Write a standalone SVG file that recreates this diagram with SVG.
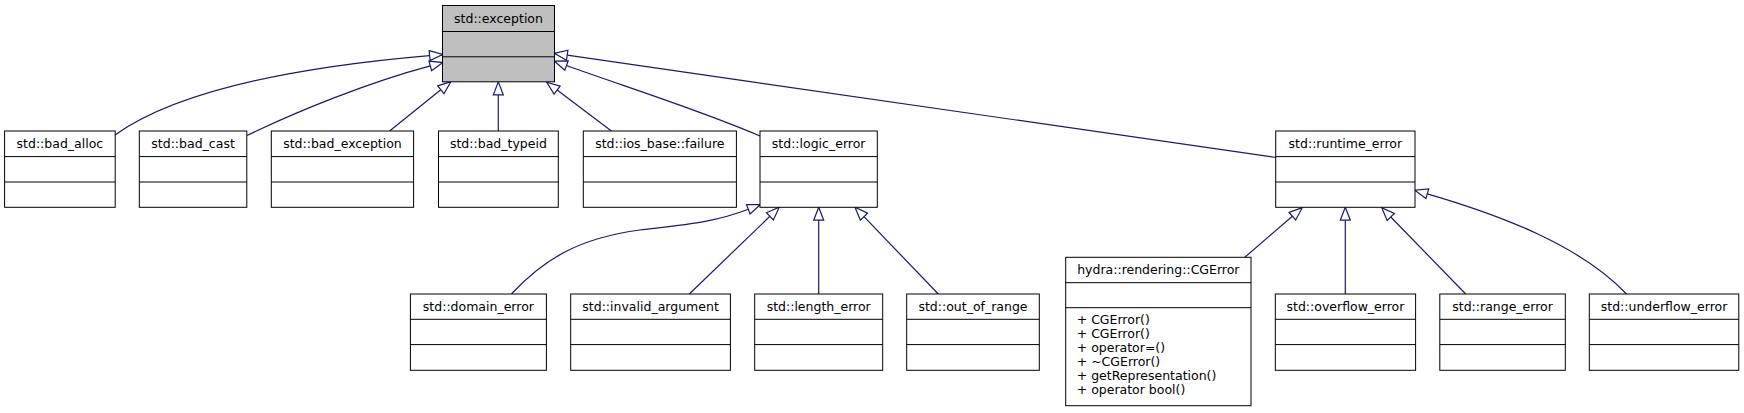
<svg xmlns="http://www.w3.org/2000/svg" width="1744" height="413" viewBox="0 0 1744 413">
<style>
.box{fill:#ffffff;stroke:#000000;stroke-width:1}
.root{fill:#bfbfbf;stroke:#000000;stroke-width:1}
.sep{stroke:#000000;stroke-width:1}
.t{font-family:"DejaVu Sans",sans-serif;font-size:12.5px;fill:#000000;text-anchor:middle}
.m{font-family:"DejaVu Sans",sans-serif;font-size:12.5px;fill:#000000;text-anchor:start}
.e{fill:none;stroke:#191970;stroke-width:1.2}
</style>
<defs>
<marker id="ah" markerUnits="userSpaceOnUse" viewBox="-1 -6 15 12" refX="0" refY="0" markerWidth="15" markerHeight="12" orient="auto">
<path d="M0,-5 L13,0 L0,5 Z" fill="#ffffff" stroke="#191970" stroke-width="1.2"/>
</marker>
</defs>
<rect width="1744" height="413" fill="#ffffff"/>
<g id="connectors">
<path class="e" marker-end="url(#ah)" d="M115,135 C185,85 320,65 429.6,55.6"/>
<path class="e" marker-end="url(#ah)" d="M247,135.5 C300,110 370,82 430.3,65.9"/>
<path class="e" marker-end="url(#ah)" d="M389.6,131 L440.8,89.8"/>
<path class="e" marker-end="url(#ah)" d="M498.3,131 L498.3,94.9"/>
<path class="e" marker-end="url(#ah)" d="M611.4,131 L557.1,90.1"/>
<path class="e" marker-end="url(#ah)" d="M760,136 C700,110 620,85 566.5,65.5"/>
<path class="e" marker-end="url(#ah)" d="M1276,157.5 L567.2,55.2"/>
<path class="e" marker-end="url(#ah)" d="M511.4,294 C545,258 580,238 640,230 C690,224 715,222 748.3,209.2"/>
<path class="e" marker-end="url(#ah)" d="M689.3,294 L769.9,216.3"/>
<path class="e" marker-end="url(#ah)" d="M818.7,294 L818.7,220.2"/>
<path class="e" marker-end="url(#ah)" d="M938.3,294 L864,216.7"/>
<path class="e" marker-end="url(#ah)" d="M1244.8,257.3 L1292.4,216.2"/>
<path class="e" marker-end="url(#ah)" d="M1345.3,294 L1345.3,220.2"/>
<path class="e" marker-end="url(#ah)" d="M1465.7,294 L1390.8,217"/>
<path class="e" marker-end="url(#ah)" d="M1626.5,294 C1580,245 1500,215 1427.3,193.8"/>
</g>
<g id="std_exception">
<rect class="root" x="442.5" y="5.5" width="112" height="76.3"/>
<line class="sep" x1="442.5" y1="31.5" x2="554.5" y2="31.5"/>
<line class="sep" x1="442.5" y1="56.8" x2="554.5" y2="56.8"/>
<text class="t" x="498.5" y="22.6">std::exception</text>
</g>
<g id="std_bad_alloc">
<rect class="box" x="4.6" y="131" width="110.6" height="76.3"/>
<line class="sep" x1="4.6" y1="156.6" x2="115.2" y2="156.6"/>
<line class="sep" x1="4.6" y1="182" x2="115.2" y2="182"/>
<text class="t" x="59.9" y="147.7">std::bad_alloc</text>
</g>
<g id="std_bad_cast">
<rect class="box" x="139.3" y="131" width="107.5" height="76.3"/>
<line class="sep" x1="139.3" y1="156.6" x2="246.8" y2="156.6"/>
<line class="sep" x1="139.3" y1="182" x2="246.8" y2="182"/>
<text class="t" x="193.05" y="147.7">std::bad_cast</text>
</g>
<g id="std_bad_exception">
<rect class="box" x="271.3" y="131" width="142.3" height="76.3"/>
<line class="sep" x1="271.3" y1="156.6" x2="413.6" y2="156.6"/>
<line class="sep" x1="271.3" y1="182" x2="413.6" y2="182"/>
<text class="t" x="342.45" y="147.7">std::bad_exception</text>
</g>
<g id="std_bad_typeid">
<rect class="box" x="438.5" y="131" width="119.8" height="76.3"/>
<line class="sep" x1="438.5" y1="156.6" x2="558.3" y2="156.6"/>
<line class="sep" x1="438.5" y1="182" x2="558.3" y2="182"/>
<text class="t" x="498.4" y="147.7">std::bad_typeid</text>
</g>
<g id="std_ios_base_failure">
<rect class="box" x="583.3" y="131" width="153.1" height="76.3"/>
<line class="sep" x1="583.3" y1="156.6" x2="736.4" y2="156.6"/>
<line class="sep" x1="583.3" y1="182" x2="736.4" y2="182"/>
<text class="t" x="659.85" y="147.7">std::ios_base::failure</text>
</g>
<g id="std_logic_error">
<rect class="box" x="760" y="131" width="117.3" height="76.3"/>
<line class="sep" x1="760" y1="156.6" x2="877.3" y2="156.6"/>
<line class="sep" x1="760" y1="182" x2="877.3" y2="182"/>
<text class="t" x="818.65" y="147.7">std::logic_error</text>
</g>
<g id="std_runtime_error">
<rect class="box" x="1275.7" y="131" width="139.3" height="76.3"/>
<line class="sep" x1="1275.7" y1="156.6" x2="1415" y2="156.6"/>
<line class="sep" x1="1275.7" y1="182" x2="1415" y2="182"/>
<text class="t" x="1345.35" y="147.7">std::runtime_error</text>
</g>
<g id="std_domain_error">
<rect class="box" x="410.4" y="294" width="136" height="76.3"/>
<line class="sep" x1="410.4" y1="319.3" x2="546.4" y2="319.3"/>
<line class="sep" x1="410.4" y1="344.6" x2="546.4" y2="344.6"/>
<text class="t" x="478.4" y="310.6">std::domain_error</text>
</g>
<g id="std_invalid_argument">
<rect class="box" x="570.7" y="294" width="159.7" height="76.3"/>
<line class="sep" x1="570.7" y1="319.3" x2="730.4" y2="319.3"/>
<line class="sep" x1="570.7" y1="344.6" x2="730.4" y2="344.6"/>
<text class="t" x="650.55" y="310.6">std::invalid_argument</text>
</g>
<g id="std_length_error">
<rect class="box" x="754.7" y="294" width="128" height="76.3"/>
<line class="sep" x1="754.7" y1="319.3" x2="882.7" y2="319.3"/>
<line class="sep" x1="754.7" y1="344.6" x2="882.7" y2="344.6"/>
<text class="t" x="818.7" y="310.6">std::length_error</text>
</g>
<g id="std_out_of_range">
<rect class="box" x="906.7" y="294" width="132.6" height="76.3"/>
<line class="sep" x1="906.7" y1="319.3" x2="1039.3" y2="319.3"/>
<line class="sep" x1="906.7" y1="344.6" x2="1039.3" y2="344.6"/>
<text class="t" x="973" y="310.6">std::out_of_range</text>
</g>
<g id="hydra_rendering_CGError">
<rect class="box" x="1065.7" y="257.3" width="185.3" height="148.4"/>
<line class="sep" x1="1065.7" y1="282.7" x2="1251" y2="282.7"/>
<line class="sep" x1="1065.7" y1="307.7" x2="1251" y2="307.7"/>
<text class="t" x="1158.35" y="274">hydra::rendering::CGError</text>
<text class="m" x="1076.7" y="324">+ CGError()</text>
<text class="m" x="1076.7" y="338">+ CGError()</text>
<text class="m" x="1076.7" y="352">+ operator=()</text>
<text class="m" x="1076.7" y="366">+ ~CGError()</text>
<text class="m" x="1076.7" y="380">+ getRepresentation()</text>
<text class="m" x="1076.7" y="394">+ operator bool()</text>
</g>
<g id="std_overflow_error">
<rect class="box" x="1275.3" y="294" width="140.3" height="76.3"/>
<line class="sep" x1="1275.3" y1="319.3" x2="1415.6" y2="319.3"/>
<line class="sep" x1="1275.3" y1="344.6" x2="1415.6" y2="344.6"/>
<text class="t" x="1345.45" y="310.6">std::overflow_error</text>
</g>
<g id="std_range_error">
<rect class="box" x="1439.8" y="294" width="125.5" height="76.3"/>
<line class="sep" x1="1439.8" y1="319.3" x2="1565.3" y2="319.3"/>
<line class="sep" x1="1439.8" y1="344.6" x2="1565.3" y2="344.6"/>
<text class="t" x="1502.55" y="310.6">std::range_error</text>
</g>
<g id="std_underflow_error">
<rect class="box" x="1589.3" y="294" width="149.5" height="76.3"/>
<line class="sep" x1="1589.3" y1="319.3" x2="1738.8" y2="319.3"/>
<line class="sep" x1="1589.3" y1="344.6" x2="1738.8" y2="344.6"/>
<text class="t" x="1664.05" y="310.6">std::underflow_error</text>
</g>
</svg>
